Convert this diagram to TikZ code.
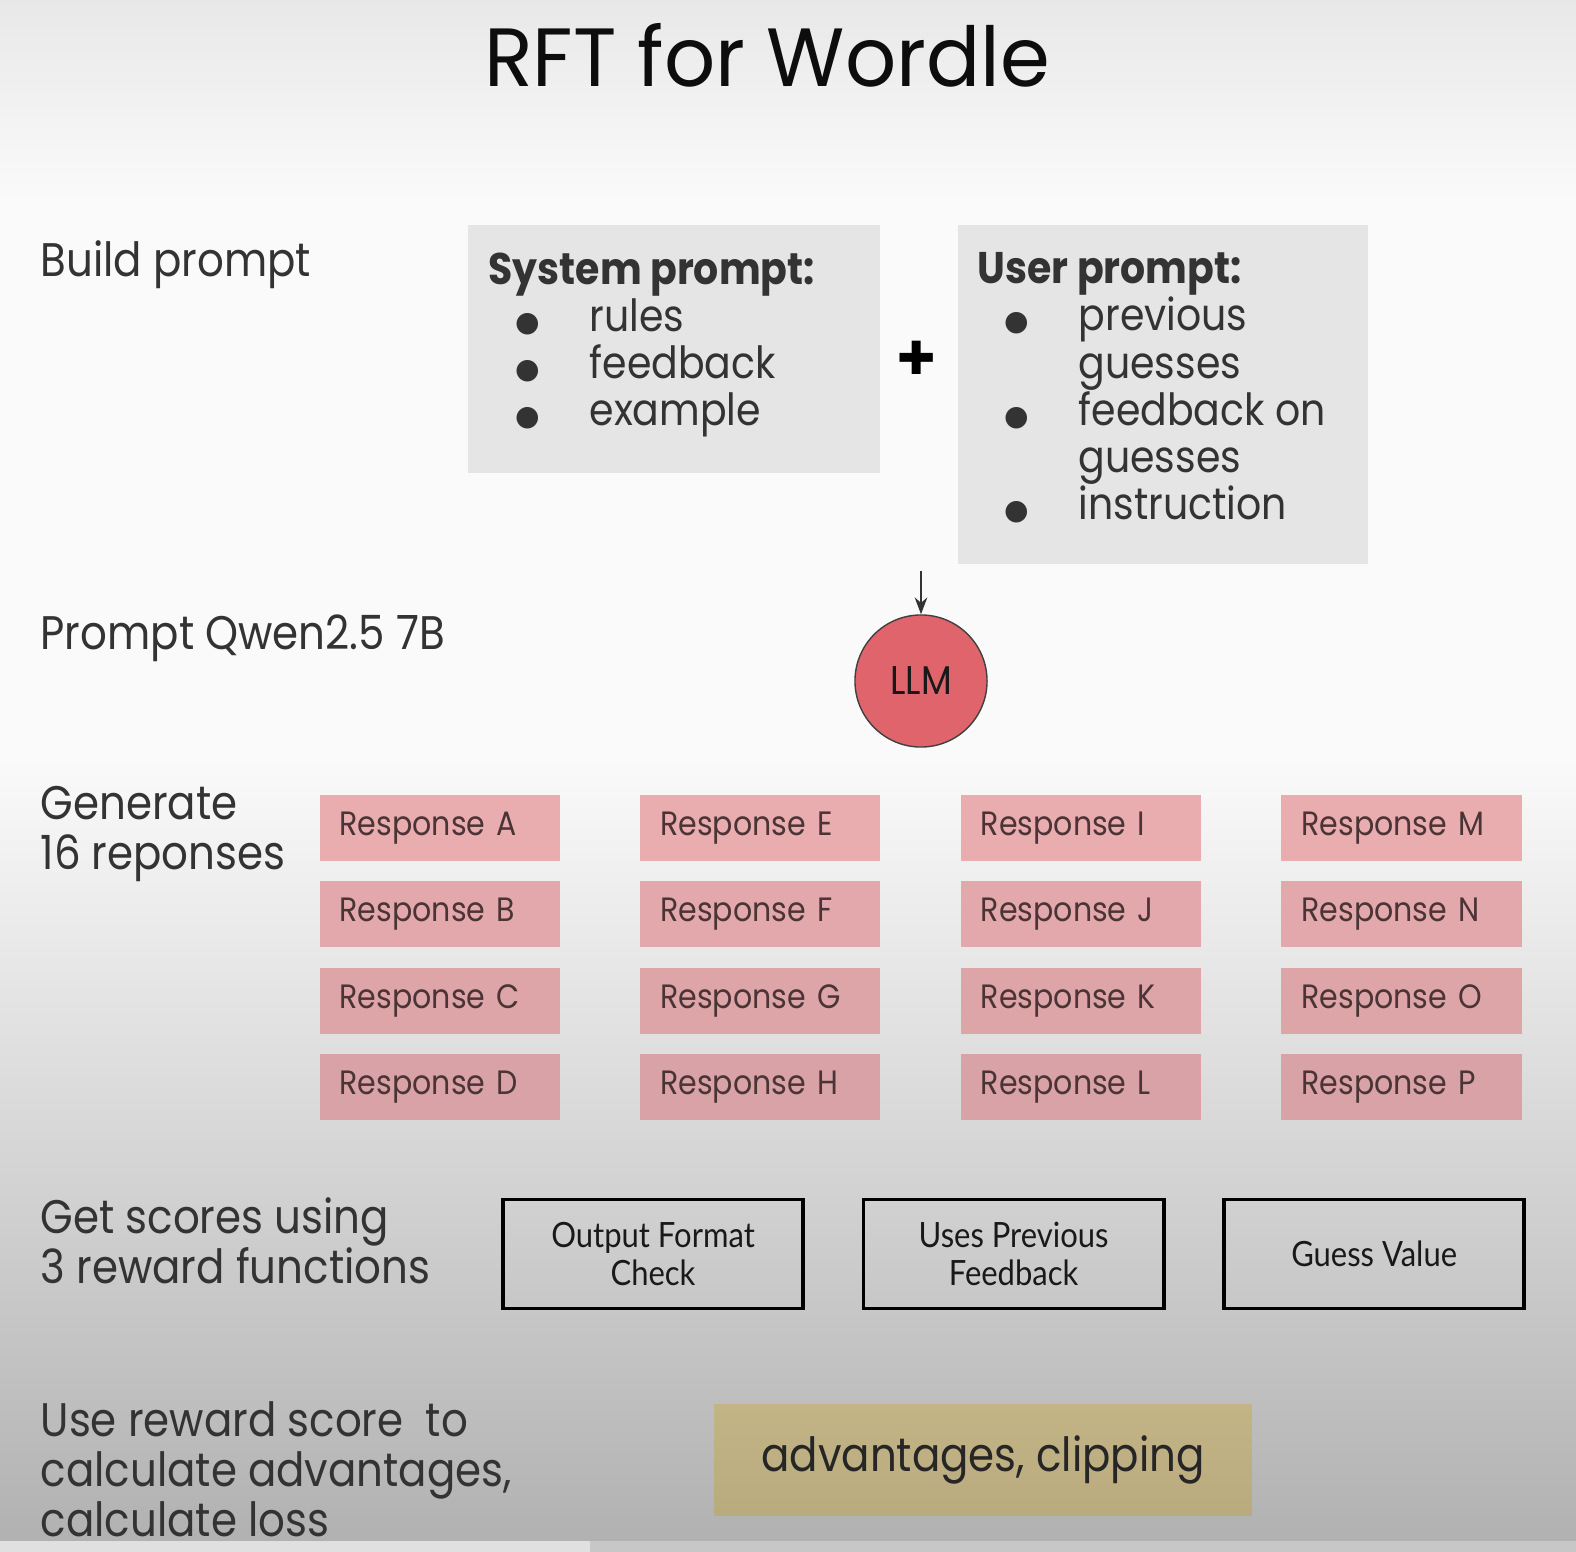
\documentclass[tikz,border=0pt]{standalone}
\usepackage{fontspec}
\setmainfont{Poppins}[FakeStretch=0.89]
\newfontfamily\latofont{Lato}[FakeStretch=0.89]
\newfontfamily\titlefont{Poppins}[FakeStretch=0.97]
\newfontfamily\symfont{DejaVu Sans}
\usepackage{tikz}
\usetikzlibrary{positioning,arrows.meta}

\definecolor{pgray}{HTML}{E5E5E5}
\definecolor{rowa}{HTML}{E9ACAF}
\definecolor{rowb}{HTML}{E3A8AB}
\definecolor{rowc}{HTML}{DEA5A9}
\definecolor{rowd}{HTML}{D9A2A6}
\definecolor{llmred}{HTML}{E0646C}
\definecolor{khakitop}{HTML}{C2B485}
\definecolor{khakibot}{HTML}{B9AB7E}
\definecolor{ink}{HTML}{333333}
\definecolor{respink}{HTML}{4A3436}

\newcommand{\bul}{\makebox[28.7pt][l]{\hspace{7.5pt}\symfont\footnotesize●}}
\newcommand{\nobul}{\makebox[28.7pt][l]{}}

\begin{document}
\begin{tikzpicture}[x=0.01cm, y=-0.01cm,
    >=Stealth,
    node distance=0.19cm and 0.79cm,
    lbl/.style={%
      anchor=west, align=left, text=ink, inner sep=0pt,
      font=\fontsize{13.4}{14.2}\selectfont
    },
    pbox/.style={%
      rectangle, draw=none, fill=pgray, anchor=north west, inner sep=0pt
    },
    ptext/.style={%
      anchor=north west, align=left, inner sep=0pt, text=ink,
      font=\fontsize{12.6}{13.4}\selectfont
    },
    resp/.style={%
      rectangle, fill=rowa, text=respink, align=left,
      text width=2.0cm, inner xsep=0.2cm, minimum height=0.66cm,
      font=\fontsize{9.6}{10}\selectfont
    },
    rew/.style={%
      rectangle, draw=black, line width=1.1pt, align=center, text=black!90,
      minimum width=3.0cm, minimum height=1.09cm,
      font=\latofont\fontsize{9.9}{10.8}\selectfont
    }
]
    % background
    \shade[top color=black!9, bottom color=black!2] (0,0) rectangle (1576,200);
    \fill[black!2] (0,200) rectangle (1576,760);
    \shade[top color=black!2, bottom color=black!30.5] (0,760) rectangle (1576,1541);
    \fill[black!12] (0,1541) rectangle (590,1552);
    \fill[black!22] (590,1541) rectangle (1576,1552);
    \useasboundingbox (0,0) rectangle (1576,1552);

    \node[font=\titlefont\fontsize{23.5}{26}\selectfont, text=black!95] (title) at (767,55) {RFT for Wordle};

    % left labels
    \node[lbl] (l1) at (40,265)  {Build prompt};
    \node[lbl] (l2) at (40,638)  {Prompt Qwen2.5 7B};
    \node[lbl] (l3) at (40,834)  {Generate\\16 reponses};
    \node[lbl] (l4) at (40,1241) {Get scores using\\3 reward functions};
    \node[lbl] (l5) at (40,1469) {Use reward score\ \ to\\calculate advantages,\\calculate loss};

    % prompts
    \node[pbox, minimum width=4.12cm, minimum height=2.48cm] (sys) at (467,224) {};
    \node[pbox, minimum width=4.10cm, minimum height=3.39cm] (user) at (957,224) {};
    \node[ptext] (systxt) at (488,252) {\textbf{System prompt:}\\\bul rules\\\bul feedback\\\bul example};
    \node[ptext] (usertxt) at (977,252) {\textbf{User prompt:}\\\bul previous\\\nobul guesses\\\bul feedback on\\\nobul guesses\\\bul instruction};
    \node[font=\symfont\fontsize{13}{13}\selectfont] (plus) at (917,358) {✚};

    % model
    \node[circle, draw=black!75, fill=llmred, minimum size=1.32cm, inner sep=0pt,
          font=\fontsize{11.4}{12}\selectfont, text=black!90] (llm) at (921,681) {LLM};
    \coordinate (feed) at (921,571);
    \draw[->, black!80, thin] (feed) -- (llm);

    % responses
    \node[resp, anchor=north west] (rA) at (319,794) {Response A};
    \node[resp, fill=rowb] (rB) [below = of rA] {Response B};
    \node[resp, fill=rowc] (rC) [below = of rB] {Response C};
    \node[resp, fill=rowd] (rD) [below = of rC] {Response D};
    \node[resp] (rE) [right = of rA] {Response E};
    \node[resp, fill=rowb] (rF) [below = of rE] {Response F};
    \node[resp, fill=rowc] (rG) [below = of rF] {Response G};
    \node[resp, fill=rowd] (rH) [below = of rG] {Response H};
    \node[resp] (rI) [right = of rE] {Response I};
    \node[resp, fill=rowb] (rJ) [below = of rI] {Response J};
    \node[resp, fill=rowc] (rK) [below = of rJ] {Response K};
    \node[resp, fill=rowd] (rL) [below = of rK] {Response L};
    \node[resp] (rM) [right = of rI] {Response M};
    \node[resp, fill=rowb] (rN) [below = of rM] {Response N};
    \node[resp, fill=rowc] (rO) [below = of rN] {Response O};
    \node[resp, fill=rowd] (rP) [below = of rO] {Response P};

    % reward functions
    \node[rew] (fmt) at (653,1254) {Output Format\\Check};
    \node[rew] (prev) [right = 0.565cm of fmt] {Uses Previous\\Feedback};
    \node[rew] (val) [right = 0.565cm of prev] {Guess Value};

    % loss
    \node[rectangle, top color=khakitop, bottom color=khakibot, minimum width=5.37cm, minimum height=1.10cm,
          font=\fontsize{13.4}{14}\selectfont, text=black!85] (adv) at (983,1460) {advantages, clipping};
\end{tikzpicture}
\end{document}
